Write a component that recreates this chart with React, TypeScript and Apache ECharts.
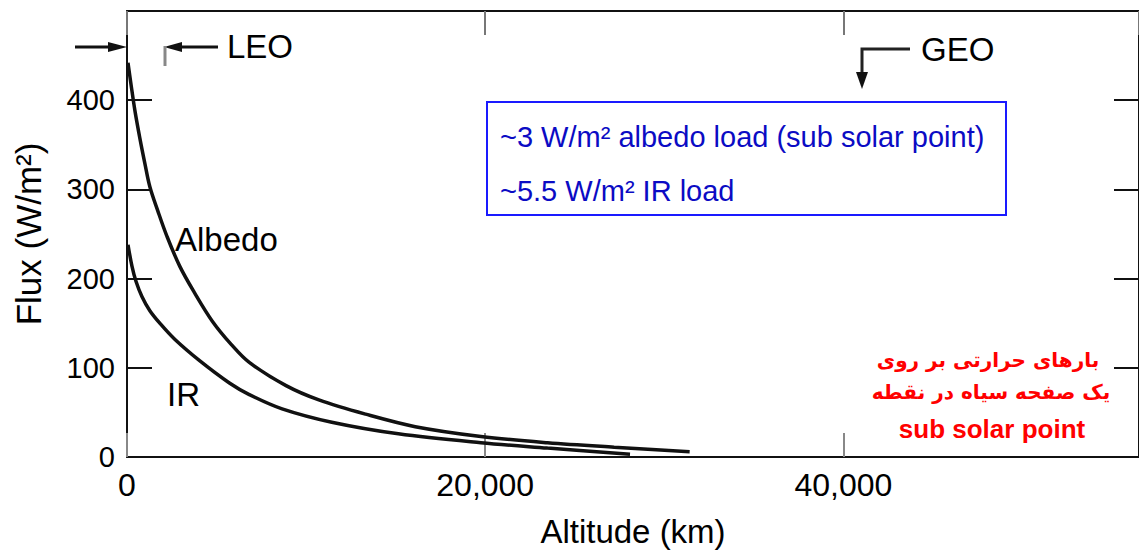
import React, { useEffect, useRef } from "react";
import * as echarts from "echarts";

// Altitude (km) and flux (W/m²)
const albedoAltitude = [55, 222, 444, 722, 999, 1276, 1720, 2220, 2942, 3774, 4773, 5828, 6826, 8880, 10711, 13320, 16095, 19758, 23476, 27195, 31413];
const albedoFlux = [442, 418, 388, 357, 329, 303, 276, 248, 214, 184, 152, 126, 106, 80, 64, 48, 34, 23, 16, 11, 6];

const irAltitude = [55, 277, 500, 832, 1276, 1831, 2664, 4052, 5717, 6826, 8658, 11433, 15151, 19758, 23476, 28083];
const irFlux = [238, 214, 197, 180, 164, 150, 132, 108, 83, 70, 54, 39, 26, 16, 10, 3];

const xTicks = [0, 20000, 40000];
const yTicks = [0, 100, 200, 300, 400];

const boxLines = ["~3 W/m² albedo load (sub solar point)", "~5.5 W/m² IR load"];
const noteLines = ["بارهای حرارتی بر روی", "یک صفحه سیاه در نقطه", "sub solar point"];

const FONT = "'Liberation Sans', Arial, Helvetica, sans-serif";

export default function App() {
  const ref = useRef<HTMLDivElement>(null);

  useEffect(() => {
    if (!ref.current) return;
    const chart = echarts.init(ref.current, undefined, { renderer: "svg" });
    const albedoData = albedoAltitude.map((a, i) => [a, albedoFlux[i]]);
    const irData = irAltitude.map((a, i) => [a, irFlux[i]]);
    const xMax = 56500;
    const yMax = 500;

    chart.setOption({
      animation: false,
      backgroundColor: "#ffffff",
      grid: { left: 127, top: 11, right: -6, bottom: 92, containLabel: false },
      xAxis: [
        {
          type: "value",
          min: xTicks[0],
          max: xMax,
          interval: 20000,
          position: "bottom",
          name: "Altitude (km)",
          nameLocation: "middle",
          nameGap: 58,
          nameTextStyle: { fontFamily: FONT, fontSize: 33, color: "#000" },
          axisLine: { show: true, onZero: false, lineStyle: { color: "#111", width: 2 } },
          axisTick: { show: true, inside: true, length: 24, lineStyle: { color: "#888", width: 2 } },
          axisLabel: {
            show: true,
            showMaxLabel: false,
            margin: 12,
            fontFamily: FONT,
            fontSize: 32,
            color: "#000",
            formatter: (v: number) => v.toLocaleString("en-US"),
          },
          splitLine: { show: false },
        },
        {
          type: "value",
          min: xTicks[0],
          max: xMax,
          interval: 20000,
          position: "top",
          axisLine: { show: true, onZero: false, lineStyle: { color: "#111", width: 2 } },
          axisTick: { show: true, inside: true, length: 24, lineStyle: { color: "#777", width: 2 } },
          axisLabel: { show: false },
          splitLine: { show: false },
        },
      ],
      yAxis: [
        {
          type: "value",
          min: yTicks[0],
          max: yMax,
          interval: 100,
          name: "Flux (W/m²)",
          nameLocation: "middle",
          nameGap: 81,
          nameRotate: 90,
          nameTextStyle: { fontFamily: FONT, fontSize: 35, color: "#000" },
          axisLine: { show: true, onZero: false, lineStyle: { color: "#111", width: 2 } },
          axisTick: { show: true, inside: true, length: 25, lineStyle: { color: "#111", width: 2 } },
          axisLabel: {
            show: true,
            showMaxLabel: false,
            margin: 12,
            fontFamily: FONT,
            fontSize: 29,
            color: "#000",
          },
          splitLine: { show: false },
        },
        {
          type: "value",
          min: yTicks[0],
          max: yMax,
          interval: 100,
          position: "right",
          axisLine: { show: true, onZero: false, lineStyle: { color: "#111", width: 2 } },
          axisTick: { show: true, inside: true, length: 25, lineStyle: { color: "#111", width: 2 } },
          axisLabel: { show: false },
          splitLine: { show: false },
        },
      ],
      series: [
        {
          name: "Albedo",
          type: "line",
          xAxisIndex: 0,
          yAxisIndex: 0,
          data: albedoData,
          smooth: 0.35,
          showSymbol: false,
          lineStyle: { color: "#111", width: 3.5 },
        },
        {
          name: "IR",
          type: "line",
          xAxisIndex: 0,
          yAxisIndex: 0,
          data: irData,
          smooth: 0.35,
          showSymbol: false,
          lineStyle: { color: "#111", width: 3.5 },
        },
      ],
      graphic: [
        // LEO arrows
        { type: "line", shape: { x1: 75, y1: 47, x2: 114, y2: 47 }, style: { stroke: "#111", lineWidth: 3 } },
        { type: "polygon", shape: { points: [[108, 42], [127, 47], [108, 52]] }, style: { fill: "#111" } },
        { type: "line", shape: { x1: 176, y1: 47, x2: 218, y2: 47 }, style: { stroke: "#111", lineWidth: 3 } },
        { type: "polygon", shape: { points: [[182, 42], [164, 47], [182, 52]] }, style: { fill: "#111" } },
        { type: "line", shape: { x1: 165, y1: 46, x2: 165, y2: 66 }, style: { stroke: "#888", lineWidth: 3 } },
        { type: "text", left: 227, top: 30, style: { text: "LEO", font: `33px ${FONT}`, fill: "#000" } },
        // GEO arrow
        { type: "polyline", shape: { points: [[910, 49], [862, 49], [862, 78]] }, style: { stroke: "#222", lineWidth: 3, fill: null } },
        { type: "polygon", shape: { points: [[856, 72], [868, 72], [862, 89]] }, style: { fill: "#111" } },
        { type: "text", left: 921, top: 33, style: { text: "GEO", font: `33px ${FONT}`, fill: "#000" } },
        // Curve labels
        { type: "text", left: 175, top: 223, style: { text: "Albedo", font: `33px ${FONT}`, fill: "#000" } },
        { type: "text", left: 167, top: 378, style: { text: "IR", font: `33px ${FONT}`, fill: "#000" } },
        // Blue box
        {
          type: "rect",
          shape: { x: 487, y: 102, width: 519, height: 113 },
          style: { fill: "none", stroke: "#1a1aff", lineWidth: 2 },
        },
        { type: "text", left: 500, top: 122, style: { text: boxLines[0], font: `29px ${FONT}`, fill: "#0b0bc4" } },
        { type: "text", left: 500, top: 176, style: { text: boxLines[1], font: `29px ${FONT}`, fill: "#0b0bc4" } },
        // Red note
        {
          type: "text",
          x: 988,
          y: 360,
          style: { text: noteLines[0], font: `bold 20px 'DejaVu Sans', sans-serif`, fill: "#ff0000", align: "center", verticalAlign: "middle" },
        },
        {
          type: "text",
          x: 991,
          y: 392,
          style: { text: noteLines[1], font: `bold 20px 'DejaVu Sans', sans-serif`, fill: "#ff0000", align: "center", verticalAlign: "middle" },
        },
        {
          type: "text",
          x: 992,
          y: 429,
          style: { text: noteLines[2], font: `bold 26px ${FONT}`, fill: "#ff0000", align: "center", verticalAlign: "middle" },
        },
      ],
    });

    return () => chart.dispose();
  }, []);

  return (
    <div
      ref={ref}
      style={{ position: "fixed", left: 0, top: 0, width: 1139, height: 553, background: "#fff" }}
    />
  );
}
